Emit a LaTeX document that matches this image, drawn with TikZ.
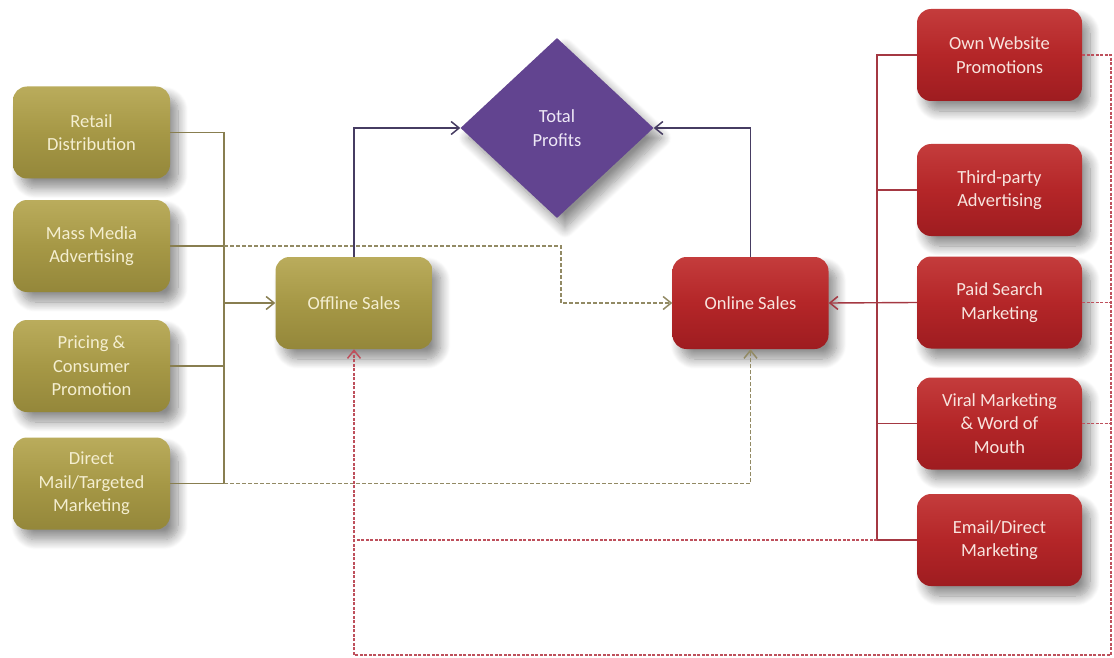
\documentclass[tikz,border=0pt]{standalone}
\usepackage{fontspec}
\setmainfont{Carlito}
\usetikzlibrary{shapes.geometric,arrows.meta,shadows.blur}
\definecolor{olivebox}{RGB}{166,152,70}
\definecolor{olivetop}{RGB}{186,172,92}
\definecolor{olivebot}{RGB}{148,135,58}
\definecolor{oliveline}{RGB}{136,126,80}
\definecolor{olivedash}{RGB}{146,138,100}
\definecolor{redbox}{RGB}{180,38,40}
\definecolor{redtop}{RGB}{196,60,60}
\definecolor{redbot}{RGB}{158,28,32}
\definecolor{redline}{RGB}{164,56,66}
\definecolor{reddash}{RGB}{190,80,92}
\definecolor{purplebox}{RGB}{98,68,144}
\definecolor{purpleline}{RGB}{70,60,98}
\definecolor{olivetext}{RGB}{244,238,208}
\definecolor{redtext}{RGB}{248,228,222}
\definecolor{purpletext}{RGB}{238,232,246}
\tikzset{
  shad/.style={blur shadow={shadow xshift=8pt,shadow yshift=-10pt,shadow blur steps=12,shadow blur radius=10pt,shadow opacity=45}},
  obox/.style={shad,rounded corners=14pt,minimum width=157pt,minimum height=92pt,
    top color=olivetop,bottom color=olivebot,middle color=olivebox,
    text=olivetext,align=center,font=\fontsize{18.5}{23.5}\selectfont,inner sep=2pt},
  rbox/.style={shad,rounded corners=14pt,minimum width=165pt,minimum height=92pt,
    top color=redtop,bottom color=redbot,middle color=redbox,
    text=redtext,align=center,font=\fontsize{18.5}{23.5}\selectfont,inner sep=2pt},
  pdia/.style={shad,diamond,fill=purplebox,minimum width=193pt,minimum height=180pt,inner sep=0pt,
    text=purpletext,align=center,font=\fontsize{18.5}{23.5}\selectfont},
  tip/.style={-{Straight Barb[length=8pt,width=13pt,line width=1.5pt]}},
  oline/.style={draw=oliveline,line width=1.4pt},
  odash/.style={draw=olivedash,line width=1.5pt,dash pattern=on 4pt off 2pt},
  rline/.style={draw=redline,line width=1.4pt},
  rdash/.style={draw=reddash,line width=1.5pt,dash pattern=on 3pt off 1.5pt},
  pline/.style={draw=purpleline,line width=1.3pt},
}
\begin{document}
\begin{tikzpicture}[x=1pt,y=-1pt]
\useasboundingbox (0,0) rectangle (1114,658);
% left boxes
\node[obox] (retail) at (91.5,132.5) {Retail\\Distribution};
\node[obox] (mass) at (91.5,246) {Mass Media\\Advertising};
\node[obox] (pricing) at (91.5,366) {Pricing \&\\Consumer\\Promotion};
\node[obox] (direct) at (91.5,483.5) {Direct\\Mail/Targeted\\Marketing};
% centre
\node[obox] (offline) at (354,303) {Offline Sales};
\node[rbox,minimum width=156pt] (online) at (750.5,303) {Online Sales};
\node[pdia] (tp) at (557,128) {Total\\Profits};
% right boxes
\node[rbox] (own) at (999.5,55) {Own Website\\Promotions};
\node[rbox] (third) at (999.5,190) {Third-party\\Advertising};
\node[rbox] (paid) at (999.5,302.5) {Paid Search\\Marketing};
\node[rbox] (viral) at (999.5,423.5) {Viral Marketing\\\& Word of\\Mouth};
\node[rbox] (email) at (999.5,540) {Email/Direct\\Marketing};
% helper coordinates
\coordinate (bl) at (224,0);
\coordinate (cm) at (561,0);
\coordinate (br) at (877,0);
\coordinate (corner) at (1111,655);
% left bus
\draw[oline] (retail.east) -| (bl |- direct.east) -- (direct.east);
\draw[oline] (mass.east) -- (mass.east -| bl);
\draw[oline] (pricing.east) -- (pricing.east -| bl);
\draw[oline,tip] (offline.west -| bl) -- (offline.west);
% olive dashed to online
\draw[odash,tip] (mass.east -| bl) -| (cm |- online.west) -- (online.west);
\draw[odash,tip] (direct.east -| bl) -| (online.south);
% to total profits
\draw[pline,tip] (offline.north) |- (tp.west);
\draw[pline,tip] (online.north) |- (tp.east);
% right bus
\draw[rline] (own.west) -| (br |- email.west) -- (email.west);
\draw[rline] (third.west) -- (third.west -| br);
\draw[rline] (viral.west) -- (viral.west -| br);
\draw[rline,tip] (paid.west) -- (online.east);
% red dashed feedback
\draw[rdash,tip] (own.east) -| (corner) -| (offline.south);
\draw[rdash] (paid.east) -- (paid.east -| corner);
\draw[rdash] (viral.east) -- (viral.east -| corner);
\draw[rdash] (email.west -| br) -- (email.west -| offline.south);
\end{tikzpicture}
\end{document}
